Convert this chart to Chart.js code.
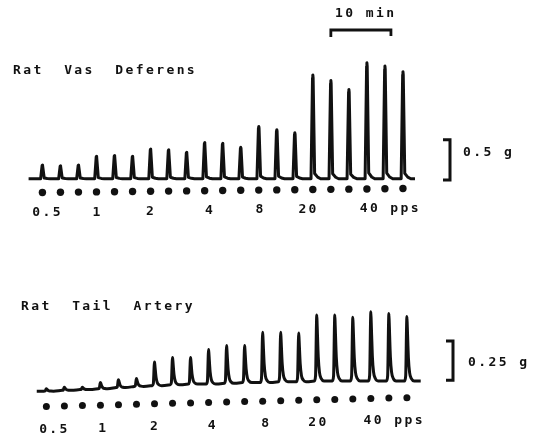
<!DOCTYPE html>
<html>
<head>
<meta charset="utf-8">
<script src="https://cdn.jsdelivr.net/npm/chart.js@4.4.1/dist/chart.umd.min.js"></script>
<style>
  html, body { margin: 0; padding: 0; background: #ffffff; }
  canvas { display: block; }
</style>
</head>
<body>
<canvas id="c" width="536" height="435"></canvas>
<script>
// ---------------- data ----------------
// stimulation times, minutes (one train every 3 min)
const stimTimesMin = [0, 3, 6, 9, 12, 15, 18, 21, 24, 27, 30, 33, 36, 39, 42, 45, 48, 51, 54, 57, 60];
// frequency labels (pulses per second) for each group of three trains
const freqLabels = ['0.5', '1', '2', '4', '8', '20', '40 pps'];
// Rat vas deferens: contraction amplitude (g)
const vasDeferensPeaks = [0.17, 0.16, 0.17, 0.28, 0.29, 0.28, 0.37, 0.36, 0.33, 0.45, 0.44, 0.39,
                          0.65, 0.61, 0.57, 1.29, 1.22, 1.11, 1.44, 1.40, 1.33];
const vasDeferensBaseline = [0, 0, 0, 0, 0, 0, 0, 0, 0, 0, 0, 0, 0, 0, 0, 0, 0, 0, 0, 0, 0];
// Rat tail artery: contraction amplitude (g) and resting tension drift (g)
const tailArteryPeaks = [0.015, 0.02, 0.015, 0.04, 0.05, 0.05, 0.15, 0.175, 0.17, 0.22, 0.24, 0.235,
                         0.32, 0.315, 0.31, 0.42, 0.42, 0.405, 0.44, 0.43, 0.41];
const tailArteryBaseline = [-0.065, -0.06, -0.055, -0.05, -0.042, -0.035, -0.03, -0.025, -0.02, -0.02, -0.015, -0.01,
                            -0.01, -0.005, -0.005, 0, 0, 0, 0, 0, 0];
// calibration bars
const timeBarMin = 10;
const vdBarG = 0.5;
const taBarG = 0.25;

// ---------------- layout / style ----------------
const W = 536, H = 435;
const PX_PER_MIN = 6.1;
const INK = '#111111';
const FONT = 'bold 13px "DejaVu Sans Mono", "Liberation Mono", monospace';
const LS = 2.4;
const P = {
  vd: { x0: 39, y0: 178, pxPerG: 82, start: -2.3, end: 62.0,
        dotY: [192, 188], labY: [213, 208],
        labelT: [0.66, 9.0, 17.9, 27.7, 36.1, 44.1, 57.7],
        title: 'Rat  Vas  Deferens', titleX: 13, titleY: 71,
        barX: 450, barV0: -0.015, barText: '0.5 g', barTextX: 463, barTextY: 153 },
  ta: { x0: 43, y0: 384, pxPerG: 160, start: -1.6, end: 62.3,
        dotY: [410, 401], labY: [430, 420],
        labelT: [1.15, 9.3, 17.9, 27.5, 36.4, 45.1, 57.7],
        title: 'Rat  Tail  Artery', titleX: 21, titleY: 307,
        barX: 453, barV0: 0.005, barText: '0.25 g', barTextX: 468, barTextY: 363 }
};
// spike templates: [time offset (min), fraction of amplitude]
const VD_SHAPE = [[-0.3, 0], [-0.05, 0.97], [0, 1], [0.05, 0.97], [0.3, 0.05], [0.8, 0.015], [1.3, 0]];
const TA_SHAPE = [[-0.4, 0], [-0.2, 0.08], [-0.05, 0.86], [0, 1], [0.06, 0.86], [0.25, 0.36],
                  [0.45, 0.13], [0.75, 0.035], [1.2, 0]];

function buildTrace(times, peaks, bases, shape, start, end) {
  const pts = [{ x: start, y: bases[0] }];
  times.forEach((t, i) => {
    shape.forEach(([dt, f]) => pts.push({ x: t + dt, y: bases[i] + f * peaks[i] }));
  });
  pts.push({ x: end, y: bases[bases.length - 1] });
  return pts;
}
function markers(times, p) {
  const n = times.length - 1;
  return times.map((t, i) => {
    const py = p.dotY[0] + (p.dotY[1] - p.dotY[0]) * i / n;
    return { x: t, y: (p.y0 - py) / p.pxPerG };
  });
}
function xRange(p) { return { min: -p.x0 / PX_PER_MIN, max: (W - p.x0) / PX_PER_MIN }; }
function yRange(p) { return { min: -(H - p.y0) / p.pxPerG, max: p.y0 / p.pxPerG }; }

const hidden = (r) => ({ type: 'linear', display: false, min: r.min, max: r.max });

const annotate = {
  id: 'annotate',
  beforeDraw(chart) {
    const ctx = chart.ctx;
    ctx.save();
    ctx.fillStyle = '#ffffff';
    ctx.fillRect(0, 0, W, H);
    ctx.restore();
  },
  afterDatasetsDraw(chart) {
    const ctx = chart.ctx;
    ctx.save();
    ctx.fillStyle = INK;
    ctx.strokeStyle = INK;
    ctx.font = FONT;
    ctx.letterSpacing = LS + 'px';
    ctx.textBaseline = 'middle';
    ctx.textAlign = 'left';
    const txt = (s, x, y) => ctx.fillText(s, x, y);
    const txtC = (s, cx, y) => {
      const w = ctx.measureText(s).width - LS;
      ctx.fillText(s, cx - w / 2, y);
    };

    // 10 min time bar
    const x1s = chart.scales.x1;
    const tb0 = x1s.getPixelForValue(48), tb1 = x1s.getPixelForValue(48 + timeBarMin);
    ctx.lineWidth = 2.8;
    ctx.lineJoin = 'miter';
    ctx.beginPath();
    ctx.moveTo(tb0, 37); ctx.lineTo(tb0, 30); ctx.lineTo(tb1, 30); ctx.lineTo(tb1, 36);
    ctx.stroke();
    txt('10 min', 335, 14);

    [['vd', 'x1', 'y1', vdBarG], ['ta', 'x2', 'y2', taBarG]].forEach(([k, xs, ys, g]) => {
      const p = P[k];
      const xS = chart.scales[xs], yS = chart.scales[ys];
      txt(p.title, p.titleX, p.titleY);
      // frequency labels
      freqLabels.forEach((s, i) => {
        const cx = xS.getPixelForValue(p.labelT[i]);
        const f = (cx - p.x0) / 366;
        const y = p.labY[0] + (p.labY[1] - p.labY[0]) * f;
        txtC(s, cx, y);
      });
      // force calibration bar
      const yb = yS.getPixelForValue(p.barV0), yt = yS.getPixelForValue(p.barV0 + g);
      ctx.lineWidth = 3;
      ctx.beginPath();
      ctx.moveTo(p.barX - 7, yt); ctx.lineTo(p.barX, yt); ctx.lineTo(p.barX, yb); ctx.lineTo(p.barX - 7, yb);
      ctx.stroke();
      txt(p.barText, p.barTextX, p.barTextY);
    });
    ctx.restore();
  }
};

new Chart(document.getElementById('c'), {
  type: 'line',
  data: {
    datasets: [
      { label: 'Rat Vas Deferens', xAxisID: 'x1', yAxisID: 'y1',
        data: buildTrace(stimTimesMin, vasDeferensPeaks, vasDeferensBaseline, VD_SHAPE, P.vd.start, P.vd.end),
        borderColor: INK, borderWidth: 3, pointRadius: 0, tension: 0, borderJoinStyle: 'round', fill: false },
      { label: 'VD stimulation', xAxisID: 'x1', yAxisID: 'y1', type: 'scatter',
        data: markers(stimTimesMin, P.vd), showLine: false,
        pointRadius: 3.7, pointBackgroundColor: INK, pointBorderColor: INK, pointBorderWidth: 0 },
      { label: 'Rat Tail Artery', xAxisID: 'x2', yAxisID: 'y2',
        data: buildTrace(stimTimesMin, tailArteryPeaks, tailArteryBaseline, TA_SHAPE, P.ta.start, P.ta.end),
        borderColor: INK, borderWidth: 3, pointRadius: 0, cubicInterpolationMode: 'monotone',
        borderJoinStyle: 'round', fill: false },
      { label: 'TA stimulation', xAxisID: 'x2', yAxisID: 'y2', type: 'scatter',
        data: markers(stimTimesMin, P.ta), showLine: false,
        pointRadius: 3.5, pointBackgroundColor: INK, pointBorderColor: INK, pointBorderWidth: 0 }
    ]
  },
  options: {
    responsive: false,
    animation: false,
    layout: { padding: 0 },
    plugins: { legend: { display: false }, title: { display: false }, tooltip: { enabled: false } },
    scales: {
      x1: hidden(xRange(P.vd)), y1: hidden(yRange(P.vd)),
      x2: hidden(xRange(P.ta)), y2: hidden(yRange(P.ta))
    }
  },
  plugins: [annotate]
});
</script>
</body>
</html>
